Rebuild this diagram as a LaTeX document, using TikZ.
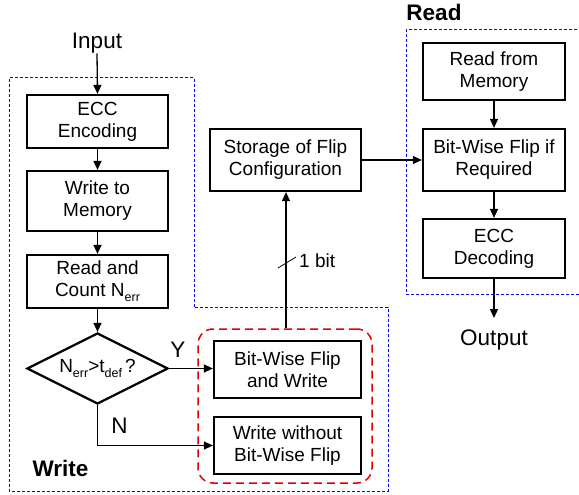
\documentclass[tikz,border=0pt]{standalone}
\usepackage{fontspec}
\setmainfont{Liberation Sans}
\usetikzlibrary{shapes.geometric,arrows.meta}
\newcommand{\lowsub}[1]{\raisebox{-0.25em}{\fontsize{12.5}{13}\selectfont #1}}
\tikzset{
  box/.style={draw=black, line width=2.2pt, minimum width=#1, inner sep=0pt, align=center,
    font=\fontsize{19}{22}\selectfont},
  box/.default=142pt,
  flow/.style={line width=1.3pt, -{Triangle[length=9pt,width=8pt]}},
  region/.style={draw=blue, line width=1pt, dash pattern=on 3pt off 2pt},
  group/.style={draw=red!90!black, line width=1.5pt, dash pattern=on 8pt off 5pt, rounded corners=15pt},
  big/.style={font=\fontsize{22.5}{26}\selectfont, inner sep=0pt},
  tag/.style={font=\bfseries\fontsize{22.5}{26}\selectfont, inner sep=0pt}
}
\begin{document}
\begin{tikzpicture}[x=1pt,y=-1pt]
\useasboundingbox (0,0) rectangle (579,495);

% write and read regions
\draw[region] (194,307) -- (194,78) -- (9,78) -- (9,491) -- (388,491) -- (388,307) -- cycle;
\draw[region] (579,294) -- (406,294) -- (406,30) -- (579,30);

% write path
\node[big] (in) at (97,43) {Input};
\node[box=141pt, minimum height=53pt] (enc) at (97.5,121.5) {ECC\\Encoding};
\node[box=141pt, minimum height=60pt] (wmem) at (97.5,201) {Write to\\Memory};
\node[box=141pt, minimum height=53pt] (cnt) at (97.5,281.5) {Read and\\Count N\lowsub{err}};
\node[draw=black, line width=2.2pt, diamond, aspect=2, minimum width=141pt, minimum height=71pt,
  inner sep=0pt, font=\fontsize{19}{22}\selectfont] (dec) at (97.5,368.5)
  {N\lowsub{err}>t\lowsub{def}\,?};

\node[group, minimum width=174pt, minimum height=154pt] (grp) at (285,406) {};
\node[box=147pt, minimum height=57pt] (flip) at (287.5,369.5) {Bit-Wise Flip\\and Write};
\node[box=147pt, minimum height=57pt] (noflip) at (287.5,445.5) {Write without\\Bit-Wise Flip};

\node[box=151pt, minimum height=62pt] (store) at (285.5,160) {Storage of Flip\\Configuration};

% read path
\node[box, minimum height=57pt] (rmem) at (494,71.5) {Read from\\Memory};
\node[box, minimum height=62pt] (bwf) at (494,160) {Bit-Wise Flip if\\Required};
\node[box, minimum height=59pt] (ecd) at (494,248.5) {ECC\\Decoding};
\node[big] (out) at (494,340) {Output};

% connectors
\draw[flow] (in.south) -- (enc.north);
\draw[flow] (enc) -- (wmem);
\draw[flow] (wmem) -- (cnt);
\draw[flow] (cnt) -- (dec);
\draw[flow] (dec.east) -- (flip.west |- dec.east);
\draw[flow] (dec.south) |- (noflip.west);
\draw[flow] (grp.north -| 286,0) -- (286,0 |- store.south);
\draw[flow] (store.east) -- (bwf.west |- store.east);
\draw[flow] (rmem) -- (bwf);
\draw[flow] (bwf) -- (ecd);
\draw[flow] (ecd.south) -- (494,318);

% bus width mark
\coordinate (m1) at (278,268);
\coordinate (m2) at (296,257);
\draw[line width=0.8pt] (m1) -- (m2);
\node[anchor=west, inner sep=0pt, font=\fontsize{19}{22}\selectfont] (bits) at (299,261) {1 bit};

% labels
\node[big] (yes) at (178,350) {Y};
\node[big] (no) at (119.5,426) {N};
\node[tag] (wlab) at (60.5,468) {Write};
\node[tag] (rlab) at (434,12) {Read};
\end{tikzpicture}
\end{document}
